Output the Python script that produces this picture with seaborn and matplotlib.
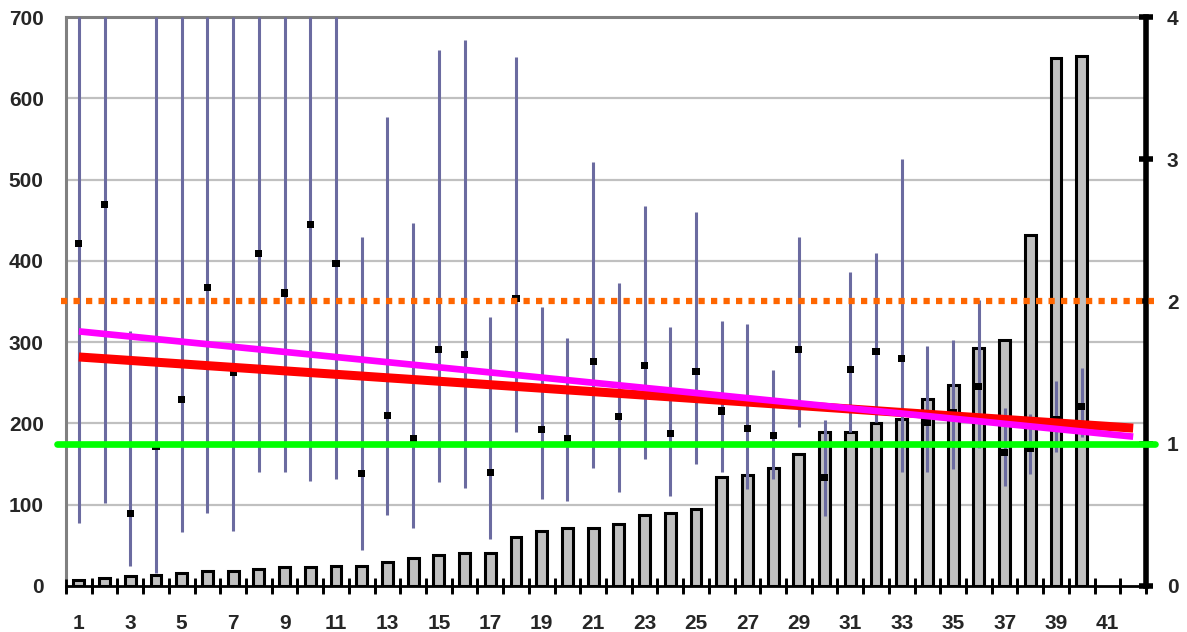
import numpy as np
import pandas as pd
import matplotlib
matplotlib.use("Agg")
import matplotlib.pyplot as plt
import seaborn as sns

# ---------------- data ----------------
categories = list(range(1, 41))
bar_values = [7, 10, 12, 13, 16, 19, 19, 21, 23, 23, 24, 25, 30, 34, 38, 40, 41, 60, 68, 71,
              71, 76, 87, 90, 95, 134, 136, 145, 162, 189, 189, 200, 206, 230, 247, 293, 303, 432, 650, 652]
point_values = [2.41, 2.68, 0.51, 0.98, 1.31, 2.10, 1.50, 2.34, 2.06, 2.54, 2.27, 0.79, 1.20, 1.04,
                1.66, 1.63, 0.80, 2.02, 1.10, 1.04, 1.58, 1.19, 1.55, 1.07, 1.51, 1.23, 1.11, 1.06,
                1.66, 0.76, 1.52, 1.65, 1.60, 1.15, 1.22, 1.40, 0.94, 0.97, 1.17, 1.26]
err_high = [4.0, 4.0, 1.79, 4.0, 4.0, 4.0, 4.0, 4.0, 4.0, 4.0, 4.0, 2.45, 3.30, 2.55, 3.77, 3.84,
            1.89, 3.72, 1.96, 1.74, 2.98, 2.13, 2.67, 1.82, 2.63, 1.86, 1.84, 1.52, 2.45, 1.17,
            2.21, 2.34, 3.00, 1.69, 1.73, 2.01, 1.25, 1.21, 1.44, 1.53]
err_low = [0.44, 0.58, 0.14, 0.09, 0.38, 0.51, 0.39, 0.80, 0.80, 0.74, 0.75, 0.25, 0.50, 0.41,
           0.73, 0.69, 0.33, 1.08, 0.61, 0.60, 0.83, 0.66, 0.89, 0.63, 0.86, 0.80, 0.68, 0.75,
           1.12, 0.49, 1.08, 1.15, 0.80, 0.80, 0.82, 0.97, 0.70, 0.79, 0.94, 1.05]
trend_x = [1, 42]
trend_red = [1.61, 1.11]
trend_magenta = [1.79, 1.05]
ref_green = 1.0
ref_orange = 2.0
left_ticks = [0, 100, 200, 300, 400, 500, 600, 700]
right_ticks = [0, 1, 2, 3, 4]
x_tick_labels = list(range(1, 42, 2))
n_slots = 42

df = pd.DataFrame({"cat": categories, "bar": bar_values, "pt": point_values,
                   "lo": err_low, "hi": err_high})

# ---------------- style ----------------
sns.set_style("white")
plt.rcParams["font.family"] = ["Liberation Sans", "DejaVu Sans"]
plt.rcParams["font.weight"] = "bold"
plt.rcParams["xtick.bottom"] = True
plt.rcParams["xtick.minor.bottom"] = True

fig = plt.figure(figsize=(11.87, 6.32), dpi=100)
ax = fig.add_axes([0.0556, 0.0728, 0.9099, 0.9003])

for v in left_ticks[1:-1]:
    ax.axhline(v, color="#c0c0c0", lw=1.6, zorder=0)

sns.barplot(data=df, x="cat", y="bar", native_scale=True, ax=ax, color="#c0c0c0",
            saturation=1, edgecolor="black", linewidth=2.2, width=0.42, errorbar=None, zorder=2)
ax.set_xlabel("")
ax.set_ylabel("")

# ---------------- secondary axis ----------------
ax2 = ax.twinx()
ax2.vlines(df["cat"], df["lo"], df["hi"], color="#6b6ba0", lw=2.2, zorder=3)
sns.scatterplot(data=df, x="cat", y="pt", ax=ax2, marker="s", color="black", s=26,
                edgecolor="none", zorder=4, legend=False)
sns.lineplot(x=trend_x, y=trend_red, ax=ax2, color="#ff0000", lw=6.5, zorder=5,
             solid_capstyle="butt")
sns.lineplot(x=trend_x, y=trend_magenta, ax=ax2, color="#ff00ff", lw=4.8, zorder=6,
             solid_capstyle="butt")
ax2.axhline(ref_green, xmin=-0.008, xmax=1.008, color="#00ff00", lw=4.8, zorder=7, clip_on=False)
ax2.axhline(ref_orange, xmin=-0.005, xmax=1.007, color="#ff6600", lw=4.5, zorder=8,
            linestyle=(0, (1, 1)), clip_on=False)
ax2.set_xlabel("")
ax2.set_ylabel("")

# ---------------- axes / ticks (after all plotting) ----------------
ax.set_xlim(0.5, n_slots + 0.5)
ax.set_ylim(0, 700)
ax2.set_ylim(0, 4)

ax.set_yticks(left_ticks)
ax.set_yticklabels([str(t) for t in left_ticks])
ax.tick_params(axis="y", left=False, length=0, pad=16, labelsize=15)
ax.set_xticks(x_tick_labels)
ax.set_xticklabels([str(t) for t in x_tick_labels])
slot_edges = np.arange(0.5, n_slots + 1, 1)
ax.set_xticks(slot_edges, minor=True)
ax.tick_params(axis="x", which="major", bottom=True, length=0, pad=20, labelsize=15)
ax.tick_params(axis="x", which="minor", bottom=True, direction="inout", length=11,
               width=2.0, color="black")
# category-boundary tick marks crossing the bottom axis (drawn on the top axes)
ax2.vlines(slot_edges, -0.013, 0.013, transform=ax2.get_xaxis_transform(),
           color="black", lw=2.0, clip_on=False, zorder=9)
for lab in ax.get_xticklabels() + ax.get_yticklabels():
    lab.set_fontweight("bold")

for s in ["left", "top"]:
    ax.spines[s].set_color("#808080")
    ax.spines[s].set_linewidth(2.2)
ax.spines["bottom"].set_color("black")
ax.spines["bottom"].set_linewidth(2.0)
ax.spines["right"].set_visible(False)

ax2.set_yticks(right_ticks)
ax2.set_yticklabels([str(t) for t in right_ticks])
ax2.tick_params(axis="y", right=True, direction="inout", length=10, width=4, color="black",
                pad=10, labelsize=15)
for lab in ax2.get_yticklabels():
    lab.set_fontweight("bold")
for s in ["left", "top", "bottom"]:
    ax2.spines[s].set_visible(False)
ax2.spines["right"].set_color("black")
ax2.spines["right"].set_linewidth(4)
ax2.set_xlim(0.5, n_slots + 0.5)

fig.savefig("out.png", dpi=100)
